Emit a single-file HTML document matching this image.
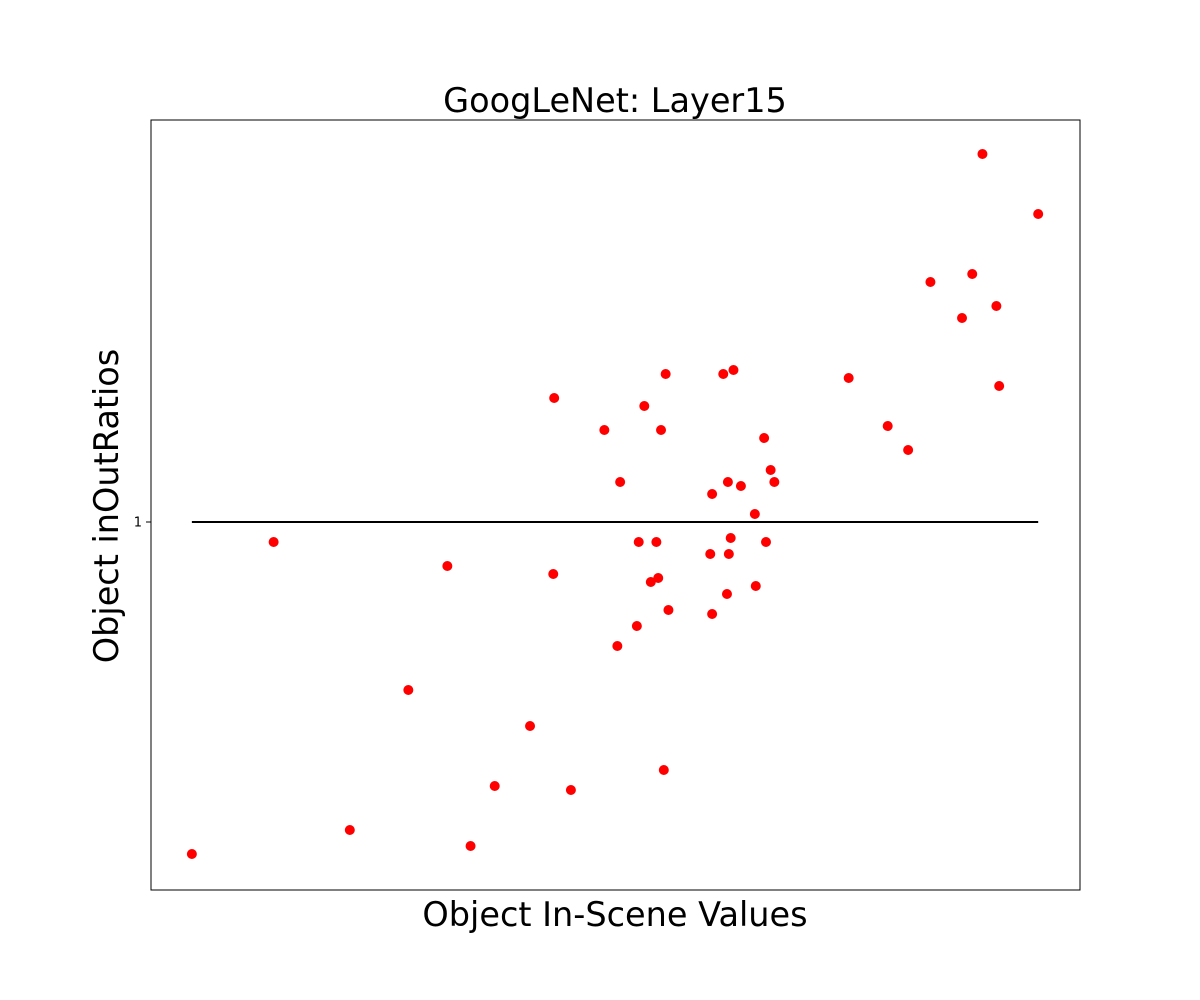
<!DOCTYPE html>
<html><head><meta charset="utf-8"><style>
body{margin:0;background:#fff;}
svg{display:block;font-family:"DejaVu Sans","Liberation Sans",sans-serif;}
</style></head><body>
<svg id="chart" width="1200" height="1000">
<text x="615" y="112" font-size="33.5" text-anchor="middle">GoogLeNet: Layer15</text>
<text x="615" y="926" font-size="33.5" text-anchor="middle">Object In-Scene Values</text>
<text transform="translate(118,506) rotate(-90)" font-size="33.5" text-anchor="middle">Object inOutRatios</text>
<g id="marks"></g>
<rect x="151" y="120" width="929" height="770" fill="none" stroke="#000" stroke-width="1"/>
</svg>
<script>
const xValues=[4.4,13.2,21.4,27.7,31.9,34.4,37.0,40.8,43.3,43.4,45.2,48.8,50.2,50.5,52.3,52.5,53.1,53.8,54.4,54.6,54.9,55.2,55.4,55.7,60.2,60.4,60.4,61.6,62.0,62.1,62.2,62.4,62.7,63.5,65.0,65.1,66.0,66.2,66.7,67.1,75.1,79.3,81.5,83.9,87.3,88.4,89.5,91.0,91.3,95.5];
const yValues=[0.17,0.95,0.23,0.58,0.89,0.19,0.34,0.49,0.87,1.31,0.33,1.23,0.69,1.10,0.74,0.95,1.29,0.85,0.95,0.86,1.23,0.38,1.37,0.78,0.92,1.07,0.77,1.37,0.82,1.10,0.92,0.96,1.38,1.09,1.02,0.84,1.21,0.95,1.13,1.10,1.36,1.24,1.18,1.60,1.51,1.62,1.92,1.54,1.34,1.77];
const yTicks=[1];
const yTickLabels=["1"];
const refLine=[1];
const X0=151,X1=1080,Y0=120,Y1=890;
const xMin=0,xMax=100,yMin=0.08,yMax=2.005;
function sx(v){return X0+(v-xMin)/(xMax-xMin)*(X1-X0);}
function sy(v){return Y1-(v-yMin)/(yMax-yMin)*(Y1-Y0);}
const NS="http://www.w3.org/2000/svg";
const g=document.getElementById('marks');
function mk(t,a){const e=document.createElementNS(NS,t);for(const k in a)e.setAttribute(k,a[k]);return e;}
const lo=Math.min(...xValues),hi=Math.max(...xValues);
refLine.forEach(v=>{
  const l=mk('line',{x1:sx(lo),x2:sx(hi),y1:sy(v),y2:sy(v),stroke:'#000','stroke-width':2});
  
  
  g.appendChild(l);
});
yTicks.forEach((v,i)=>{
  const t=mk('line',{x1:X0-5,x2:X0,y1:sy(v),y2:sy(v),stroke:'#000','stroke-width':1});
  
  
  g.appendChild(t);
  const tx=mk('text',{x:X0-9,y:sy(v)+4.5,'font-size':13,'text-anchor':'end'});
  tx.textContent=yTickLabels[i];
  
  
  g.appendChild(tx);
});
xValues.forEach((v,i)=>{
  const c=mk('circle',{cx:sx(v),cy:sy(yValues[i]),r:5,fill:'#ff0000'});
  
  
  g.appendChild(c);
});
</script>
</body></html>
